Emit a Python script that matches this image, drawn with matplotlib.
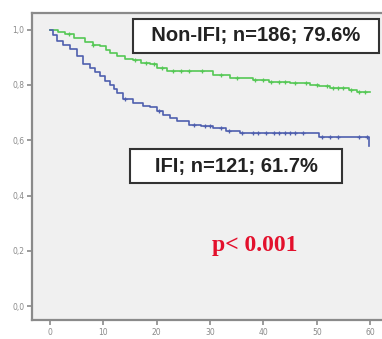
import numpy as np
import matplotlib
matplotlib.use("Agg")
import matplotlib.pyplot as plt

# Kaplan-Meier steps (months, survival)
non_ifi_t = [0, 1.5, 2.8, 4.5, 6.6, 8, 9.4, 10.5, 11.3, 12.5, 14, 15.5, 17, 18.8,
             20, 22, 30.5, 33.8, 38, 41, 45, 48.8, 50.5, 52.5, 56, 57.5, 60]
non_ifi_s = [1.0, 0.99, 0.985, 0.97, 0.955, 0.945, 0.94, 0.925, 0.915, 0.905, 0.895,
             0.89, 0.88, 0.875, 0.862, 0.852, 0.835, 0.825, 0.818, 0.812, 0.808,
             0.80, 0.795, 0.788, 0.78, 0.775, 0.775]
non_ifi_cens = [3.5, 8, 16, 18, 19.5, 21, 23, 24.5, 26, 28.5, 32, 35, 38.5, 40, 41.5,
                43, 44, 46, 48, 50, 52, 53, 54, 55, 56.5, 58, 59]

ifi_t = [0, 0.5, 1.3, 2.5, 3.75, 5, 6.2, 7.5, 8.5, 9.4, 10.3, 11.3, 12, 12.6, 13.7,
         15.6, 17.5, 18.8, 20, 21.2, 22.5, 23.8, 26, 28.3, 30.6, 33, 35.6, 50.5, 59.8]
ifi_s = [1.0, 0.98, 0.96, 0.945, 0.93, 0.905, 0.876, 0.86, 0.845, 0.833, 0.815, 0.80,
         0.785, 0.77, 0.75, 0.735, 0.725, 0.72, 0.705, 0.69, 0.68, 0.67, 0.655, 0.65,
         0.645, 0.635, 0.627, 0.61, 0.58]
ifi_cens = [14, 20.5, 27, 29, 30, 32, 33.5, 36, 38, 39, 40.5, 42, 43, 44, 45, 46,
            47.5, 51, 52.5, 54, 58, 59.5]

xticks = [0, 10, 20, 30, 40, 50, 60]
yticks = [0.0, 0.2, 0.4, 0.6, 0.8, 1.0]
ytick_labels = ["0,0", "0,2", "0,4", "0,6", "0,8", "1,0"]

green = "#55c855"
blue = "#4f5fae"
grey = "#8a8a8a"


def step_at(t, s, x):
    idx = np.searchsorted(t, x, side="right") - 1
    return np.array(s)[idx]


fig = plt.figure(figsize=(3.82, 3.39), dpi=100)
ax = fig.add_axes([32 / 382, 19 / 339, 352 / 382, 307 / 339])
ax.set_facecolor("#f0f0f0")

ax.plot(non_ifi_t, non_ifi_s, drawstyle="steps-post", color=green, lw=1.2)
ax.plot(non_ifi_cens, step_at(non_ifi_t, non_ifi_s, non_ifi_cens), "+",
        color=green, ms=3.5, mew=0.9)
ax.plot(ifi_t, ifi_s, drawstyle="steps-post", color=blue, lw=1.2)
ax.plot(ifi_cens, step_at(ifi_t, ifi_s, ifi_cens), "+",
        color=blue, ms=3.5, mew=0.9)

ax.set_xlim(-3.4, 62.6)
ax.set_ylim(-0.05, 1.06)
ax.set_xticks(xticks)
ax.set_xticklabels([str(v) for v in xticks])
ax.set_yticks(yticks)
ax.set_yticklabels(ytick_labels)
ax.tick_params(colors=grey, labelsize=5.5, length=3.5, width=1.2, pad=2)
for side in ["left", "bottom", "top"]:
    ax.spines[side].set_color(grey)
    ax.spines[side].set_linewidth(1.6)
ax.spines["right"].set_visible(False)

box = dict(boxstyle="square,pad=0.38", fc="white", ec="#333333", lw=1.5)
ax.text(38.6, 0.978, "  Non-IFI; n=186; 79.6%  ", ha="center", va="center",
        fontsize=14.5, fontweight="bold", family="Liberation Sans", color="#222222",
        bbox=box)
ax.text(34.9, 0.506, "   IFI; n=121; 61.7%   ", ha="center", va="center",
        fontsize=14.5, fontweight="bold", family="Liberation Sans", color="#222222",
        bbox=box)
ax.text(38.3, 0.22, "p< 0.001", ha="center", va="center", fontsize=17,
        fontweight="bold", family="Liberation Serif", color="#e3102c")

fig.savefig("out.png", dpi=100)
